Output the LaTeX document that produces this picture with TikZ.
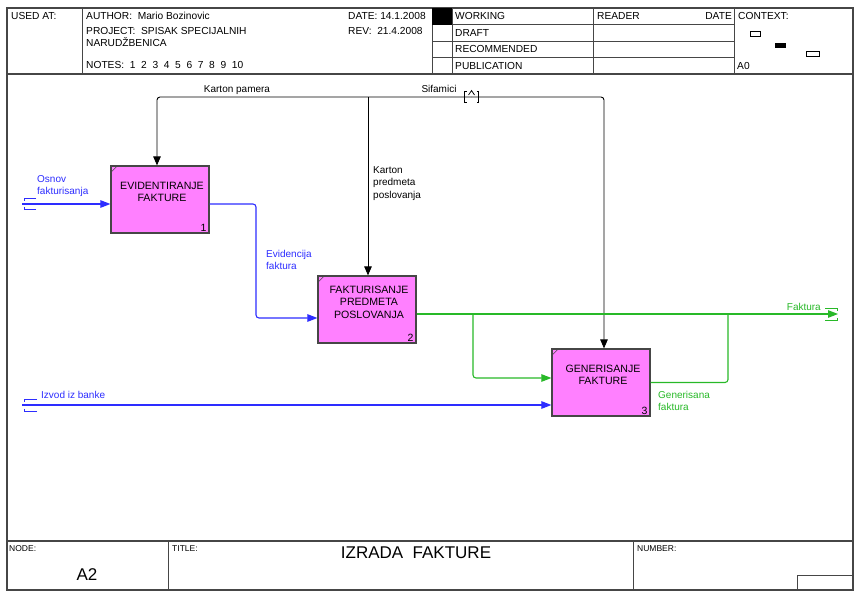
\documentclass[tikz,border=0pt]{standalone}
\usepackage{fontspec}
\setmainfont{Liberation Sans}
\usetikzlibrary{arrows.meta}
\definecolor{boxpink}{RGB}{255,128,255}
\definecolor{idefblue}{RGB}{45,45,255}
\definecolor{idefgreen}{RGB}{40,185,40}
\definecolor{framegray}{RGB}{70,70,70}
\begin{document}
\begin{tikzpicture}[x=1pt,y=-1pt,
  frame/.style={draw=framegray,line width=1.1pt},
  hline/.style={draw=framegray,line width=0.9pt},
  htext/.style={anchor=west,inner sep=0pt,font=\fontsize{10.2}{11}\selectfont},
  ftext/.style={anchor=north west,inner sep=0pt,font=\fontsize{8.5}{10}\selectfont},
  box/.style={draw=framegray,line width=1.2pt,fill=boxpink,minimum width=98pt,minimum height=67pt,inner sep=0pt},
  boxtext/.style={align=center,inner sep=0pt,font=\fontsize{10.6}{12.5}\selectfont},
  boxnum/.style={anchor=south east,inner sep=0pt,font=\fontsize{10.5}{12}\selectfont},
  lbl/.style={align=left,inner sep=0pt,font=\fontsize{10}{12.5}\selectfont},
  ctrl/.style={draw=black,line width=0.9pt,-{Triangle[length=9pt,width=7.5pt]}},
  inb/.style={draw=idefblue,line width=1.1pt,-{Triangle[length=10pt,width=7.5pt]}},
  outg/.style={draw=idefgreen,line width=1.1pt,-{Triangle[length=10pt,width=7.5pt]}},
  plaing/.style={draw=idefgreen,line width=1.1pt},
  rc/.style={rounded corners=3pt}]
\useasboundingbox (0,0) rectangle (857,592);
\fill[white] (0,0) rectangle (857,592);

% ---------- frame ----------
\draw[frame] (7,8) rectangle (853,590);
\draw[frame] (7,74) -- (853,74);
\draw[frame] (7,541) -- (853,541);
% header verticals
\draw[hline] (82,8) -- (82,74);
\draw[hline] (432,8) -- (432,74);
\draw[hline] (452,8) -- (452,74);
\draw[hline] (593,8) -- (593,74);
\draw[hline] (734,8) -- (734,74);
% header rows
\draw[hline] (432,24.5) -- (734,24.5);
\draw[hline] (432,41) -- (734,41);
\draw[hline] (432,57.5) -- (734,57.5);
\fill[black] (432,8) rectangle (452,24.5);
% footer verticals
\draw[hline] (168,541) -- (168,590);
\draw[hline] (633,541) -- (633,590);
\draw[hline] (797,590) -- (797,575) -- (853,575);
% context marks
\draw[black,line width=0.8pt] (750,31.5) rectangle (760,36);
\fill[black] (775,43) rectangle (786,47.5);
\draw[black,line width=0.8pt] (806,51.5) rectangle (819,56);

% ---------- header text ----------
\node[htext] (usedat) at (11,16) {USED AT:};
\node[htext] (author) at (86,16) {AUTHOR:\ \ Mario Bozinovic};
\node[htext] (project) at (86,30.5) {PROJECT:\ \ SPISAK SPECIJALNIH};
\node[htext] (narud) at (86,42.5) {NARUDŽBENICA};
\node[htext] (notes) at (86,65) {NOTES:\ \ 1\ \ 2\ \ 3\ \ 4\ \ 5\ \ 6\ \ 7\ \ 8\ \ 9\ \ 10};
\node[htext] (date) at (348,16) {DATE: 14.1.2008};
\node[htext] (rev) at (348,30.5) {REV:\ \ 21.4.2008};
\node[htext] (working) at (455,16) {WORKING};
\node[htext] (draft) at (455,32.5) {DRAFT};
\node[htext] (recom) at (455,49) {RECOMMENDED};
\node[htext] (publ) at (455,65.5) {PUBLICATION};
\node[htext] (reader) at (597,16) {READER};
\node[htext,anchor=east] (rdate) at (732,16) {DATE};
\node[htext] (context) at (738,16) {CONTEXT:};
\node[htext] (azero) at (737,66) {A0};

% ---------- footer text ----------
\node[ftext] (nodelbl) at (9,545) {NODE:};
\node[ftext] (titlelbl) at (172,545) {TITLE:};
\node[ftext] (numlbl) at (637,545) {NUMBER:};
\node[inner sep=0pt,font=\fontsize{17}{18}\selectfont] (nodeval) at (87,575) {A2};
\node[inner sep=0pt,font=\fontsize{17}{18}\selectfont] (title) at (416,553) {IZRADA\ \ FAKTURE};

% ---------- boxes ----------
\node[box] (b1) at (160,199.5) {};
\node[box] (b2) at (367,309.5) {};
\node[box] (b3) at (601,382.5) {};
\node[boxtext] (t1) at ([xshift=2pt,yshift=7.5pt]b1.center) {EVIDENTIRANJE\\FAKTURE};
\node[boxtext] (t2) at ([xshift=2pt,yshift=7.5pt]b2.center) {FAKTURISANJE\\PREDMETA\\POSLOVANJA};
\node[boxtext] (t3) at ([xshift=2pt,yshift=7.5pt]b3.center) {GENERISANJE\\FAKTURE};
\node[boxnum] (n1) at ([xshift=-3pt,yshift=2pt]b1.south east) {1};
\node[boxnum] (n2) at ([xshift=-3pt,yshift=2pt]b2.south east) {2};
\node[boxnum] (n3) at ([xshift=-3pt,yshift=2pt]b3.south east) {3};
\foreach \b in {b1,b2,b3}{
  \draw[framegray,line width=0.6pt] ([xshift=1.5pt,yshift=-6pt]\b.north west) -- ([xshift=6pt,yshift=-1.5pt]\b.north west);
}

% ---------- coordinates ----------
\coordinate (tun) at (471,97);
\coordinate (kbr) at (368,97);
\coordinate (osn) at (22,204);
\coordinate (izv) at (22,405);
\coordinate (fak) at (838,314);
\coordinate (j1) at (473,314);
\coordinate (j2) at (728,314);
\coordinate (bend1) at (256,260);

% ---------- controls ----------
\draw[ctrl,rc] (tun) -| ([xshift=-3pt]b1.north);
\draw[ctrl,rc] (tun) -| ([xshift=3pt]b3.north);
\draw[ctrl] (kbr) -- ([xshift=1pt]b2.north);
% tunnel symbol
\draw[black,line width=0.7pt] (466.5,91) -- (464.5,91) -- (464.5,102) -- (466.5,102);
\draw[black,line width=0.7pt] (476.5,91) -- (478.5,91) -- (478.5,102) -- (476.5,102);
\draw[black,line width=0.7pt] (468.5,95) -- (471.5,90.5) -- (474.5,95);
\node[lbl] (kp) at (237,90) {Karton pamera};
\node[lbl] (sif) at (439,89) {Sifamici};
\node[lbl,anchor=north west] (kpp) at (373,166) {Karton\\predmeta\\poslovanja};

% ---------- inputs (blue) ----------
\draw[inb] (osn) -- ([yshift=-4.5pt]b1.west);
\draw[idefblue,line width=0.8pt] (36,198) -- (24,198) -- (24,200.5) (36,209.5) -- (24,209.5) -- (24,207);
\node[lbl,text=idefblue,anchor=north west] (osnl) at (37,175) {Osnov\\fakturisanja};

\draw[inb,rc] ([yshift=-4.5pt]b1.east) -| (bend1) |- ([yshift=-8.5pt]b2.west);
\node[lbl,text=idefblue,anchor=north west] (evl) at (266,250) {Evidencija\\faktura};

\draw[inb] (izv) -- ([yshift=-22.5pt]b3.west);
\draw[idefblue,line width=0.8pt] (37,399.5) -- (24,399.5) -- (24,402) (37,411.5) -- (24,411.5) -- (24,409);
\node[lbl,text=idefblue,anchor=west] (izvl) at (41,395) {Izvod iz banke};

% ---------- outputs (green) ----------
\draw[outg] ([yshift=-4.5pt]b2.east) -- (fak);
\draw[idefgreen,line width=0.8pt] (825,308) -- (837.5,308) -- (837.5,310.5) (825,320.5) -- (837.5,320.5) -- (837.5,318);
\node[lbl,text=idefgreen,anchor=east] (fakl) at (821,307) {Faktura};

\draw[outg,rc] (j1) |- ([yshift=4.5pt]b3.west);
\draw[plaing,rc] (b3.east) -| (j2);
\node[lbl,text=idefgreen,anchor=north west] (genl) at (658,391) {Generisana\\faktura};
\end{tikzpicture}
\end{document}
